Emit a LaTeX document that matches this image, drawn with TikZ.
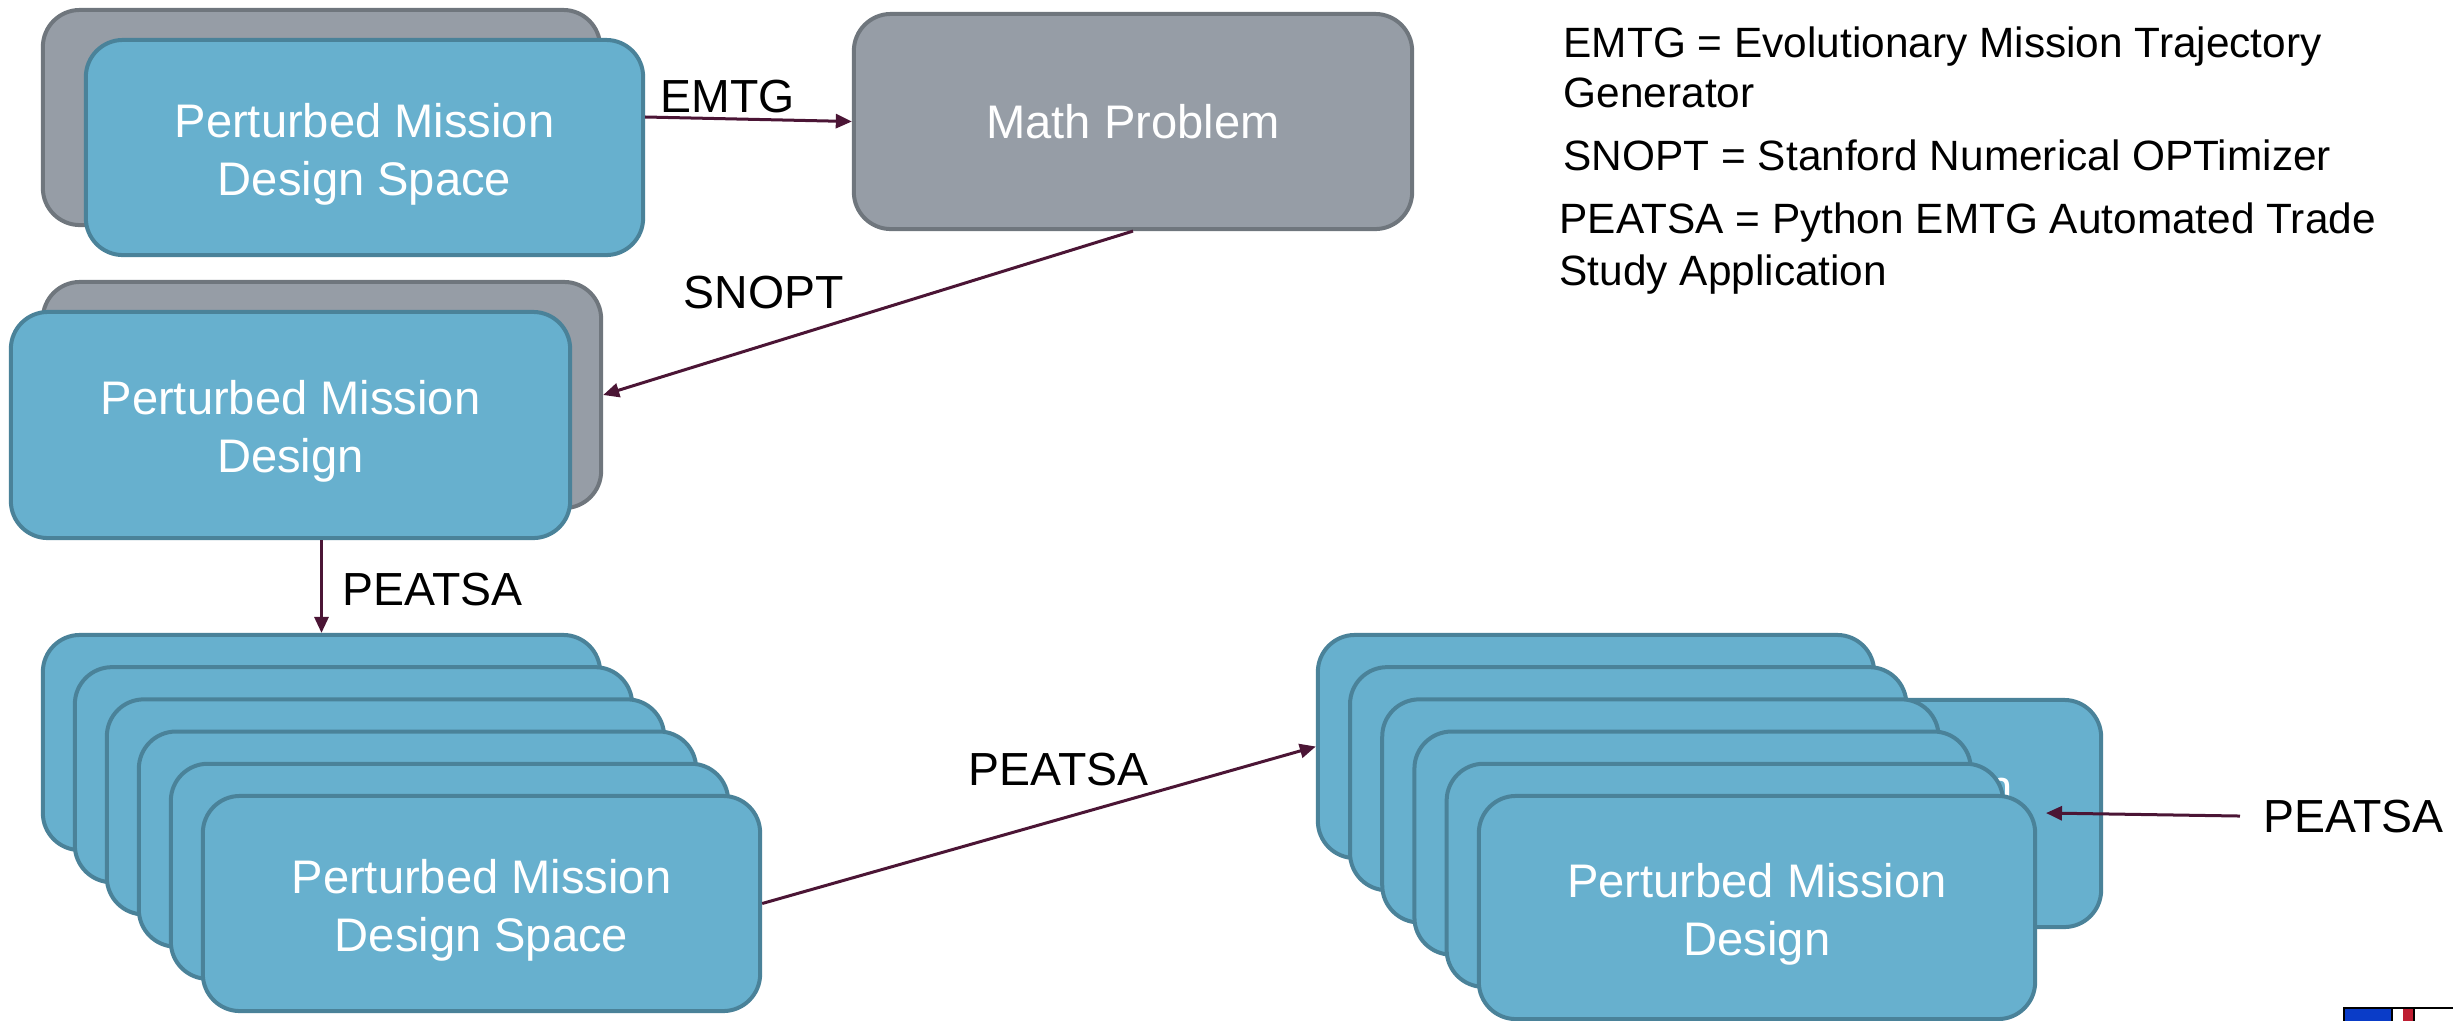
\documentclass[tikz,border=0pt]{standalone}
\usepackage{fontspec}
\setmainfont{Liberation Sans}
\usetikzlibrary{arrows.meta}
\definecolor{bfill}{RGB}{103,176,206}
\definecolor{bline}{RGB}{74,130,153}
\definecolor{gfill}{RGB}{150,157,166}
\definecolor{gline}{RGB}{111,118,125}
\definecolor{arrc}{RGB}{75,21,53}
\definecolor{logoblue}{RGB}{10,60,200}
\definecolor{logored}{RGB}{190,30,50}
\newcommand\upstrut{\rule{0pt}{13.4pt}}
\tikzset{
  box/.style={rounded corners=3.7mm, line width=0.4mm, minimum width=55.7mm,
    minimum height=21.5mm, text=white, align=center, inner sep=0pt,
    font=\fontsize{13.4pt}{16.5pt}\selectfont},
  bluebox/.style={box, fill=bfill, draw=bline},
  graybox/.style={box, fill=gfill, draw=gline},
  arr/.style={draw=arrc, line width=0.3mm, -{Triangle[length=1.6mm,width=1.4mm]}},
  lbl/.style={anchor=base west, inner sep=0pt, text=black,
    font=\fontsize{13.2pt}{16pt}\selectfont},
  legend/.style={anchor=base west, inner sep=0pt, text=black,
    font=\fontsize{12.05pt}{14.5pt}\selectfont}
}
\begin{document}
\begin{tikzpicture}[x=0.01cm, y=-0.01cm]
\useasboundingbox (0,0) rectangle (2453,1020);
\clip (0,0) rectangle (2453,1020);

% top-left group
\node[graybox] (tlg) at (321.5,117.5) {};
\node[bluebox] (tlb) at (364.5,147.5) {\upstrut Perturbed Mission\\Design Space};
% math problem
\node[graybox, minimum width=55.8mm] (math) at (1133,121.5) {Math Problem};
% middle group
\node[graybox, minimum width=55.8mm, minimum height=22.6mm] (mg) at (322,395) {};
\node[bluebox, minimum width=55.9mm, minimum height=22.6mm] (mb) at (290.5,425) {\upstrut Perturbed Mission\\Design};

% bottom-left stack
\node[bluebox] (L1) at (321.5,742.5) {};
\node[bluebox] (L2) at (353.5,774.7) {};
\node[bluebox] (L3) at (385.5,806.9) {};
\node[bluebox] (L4) at (417.5,839.1) {};
\node[bluebox] (L5) at (449.5,871.3) {};
\node[bluebox] (L6) at (481.5,903.5) {\upstrut Perturbed Mission\\Design Space};

% bottom-right stack
\node[bluebox, minimum width=55.6mm, minimum height=22.7mm] (X) at (1823,813.5) {\upstrut Perturbed Mission\\Design};
\node[bluebox, minimum width=55.6mm, minimum height=22.3mm] (R1) at (1596,746.5) {};
\node[bluebox, minimum width=55.6mm, minimum height=22.3mm] (R2) at (1628.2,778.7) {};
\node[bluebox, minimum width=55.6mm, minimum height=22.3mm] (R3) at (1660.4,810.9) {};
\node[bluebox, minimum width=55.6mm, minimum height=22.3mm] (R4) at (1692.6,843.1) {};
\node[bluebox, minimum width=55.6mm, minimum height=22.3mm] (R5) at (1724.8,875.3) {};
\node[bluebox, minimum width=55.6mm, minimum height=22.3mm] (R6) at (1757,907.5) {\upstrut Perturbed Mission\\Design};

% labels
\node[lbl] (lEMTG) at (660,112) {EMTG};
\node[lbl] (lSNOPT) at (683,308) {SNOPT};
\node[lbl] (lP1) at (342,605) {PEATSA};
\node[lbl] (lP2) at (968,785) {PEATSA};
\node[lbl] (lP3) at (2263,832) {PEATSA};
\coordinate (pin) at (2046,813);

% connectors
\draw[arr] ([yshift=3.05mm]tlb.east) -- (math.west);
\draw[arr] (math.south) -- (mg.east);
\draw[arr] (L1.north |- mb.south) -- (L1.north);
\draw[arr] (L6.east) -- (R1.west);
\draw[arr] ([xshift=-2.3mm]lP3.west) -- (pin);

% legend
\node[legend] (g1) at (1563,57) {EMTG = Evolutionary Mission Trajectory};
\node[legend] (g2) at (1563,107) {Generator};
\node[legend] (g3) at (1563,170) {SNOPT = Stanford Numerical OPTimizer};
\node[legend] (g4) at (1559,233) {PEATSA = Python EMTG Automated Trade};
\node[legend] (g5) at (1559,285) {Study Application};

% logo fragment
\fill[white] (2343,1007) rectangle (2453,1022);
\fill[logoblue] (2345,1009) rectangle (2391,1022);
\fill[logored] (2403,1009) rectangle (2413,1022);
\draw[black, line width=0.2mm] (2344,1022) -- (2344,1008) -- (2453,1008);
\draw[black, line width=0.2mm] (2392,1008) -- (2392,1022);
\draw[black, line width=0.2mm] (2414,1008) -- (2414,1022);
\end{tikzpicture}
\end{document}
